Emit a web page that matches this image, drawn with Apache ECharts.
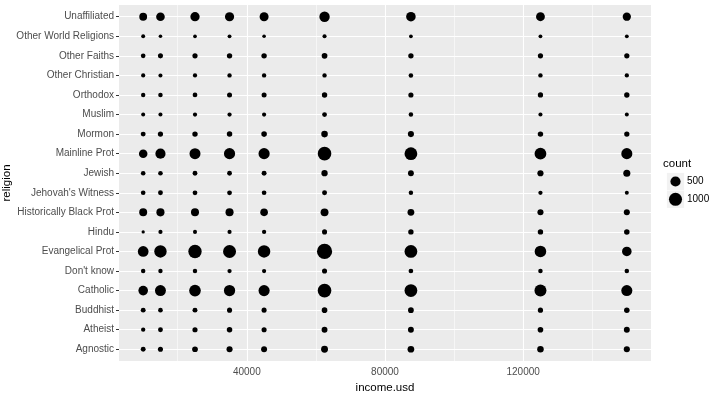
<!DOCTYPE html>
<html><head><meta charset="utf-8">
<script src="https://cdn.jsdelivr.net/npm/echarts@6/dist/echarts.min.js"></script>
<style>html,body{margin:0;padding:0;background:#fff}#c{width:720px;height:394px}</style>
</head><body><div id="c"></div>
<script>
// income.usd positions (x) for each income bracket
const incomeValues = [10000, 15000, 25000, 35000, 45000, 62500, 87500, 125000, 150000];
// religions, bottom to top
const religions = ["Agnostic","Atheist","Buddhist","Catholic","Don't know","Evangelical Prot","Hindu","Historically Black Prot","Jehovah's Witness","Jewish","Mainline Prot","Mormon","Muslim","Orthodox","Other Christian","Other Faiths","Other World Religions","Unaffiliated"];
// counts per religion across incomeValues
const agnostic      = [27, 34, 60, 81, 76, 137, 122, 109, 84];
const atheist       = [12, 27, 37, 52, 35, 70, 73, 59, 74];
const buddhist      = [27, 21, 30, 34, 33, 58, 62, 39, 53];
const catholic      = [418, 617, 732, 670, 638, 1116, 949, 792, 633];
const dontKnow      = [15, 14, 15, 11, 10, 35, 21, 17, 18];
const evangelical   = [575, 869, 1064, 982, 881, 1486, 949, 723, 414];
const hindu         = [1, 9, 7, 9, 11, 34, 47, 48, 54];
const histBlack     = [228, 244, 236, 238, 197, 223, 131, 81, 78];
const jehovah       = [20, 27, 24, 24, 21, 30, 15, 11, 6];
const jewish        = [19, 19, 25, 25, 30, 95, 69, 87, 151];
const mainline      = [289, 495, 619, 655, 651, 1107, 939, 753, 634];
const mormon        = [29, 40, 48, 51, 56, 112, 85, 49, 42];
const muslim        = [6, 7, 9, 10, 9, 23, 16, 8, 6];
const orthodox      = [13, 17, 23, 32, 32, 47, 38, 42, 46];
const otherChristian= [9, 7, 11, 13, 13, 14, 18, 14, 12];
const otherFaiths   = [20, 33, 40, 46, 49, 63, 46, 40, 41];
const otherWorld    = [5, 2, 3, 4, 2, 7, 3, 4, 4];
const unaffiliated  = [217, 299, 374, 365, 341, 528, 407, 321, 258];
const countRows = [agnostic, atheist, buddhist, catholic, dontKnow, evangelical, hindu, histBlack, jehovah, jewish, mainline, mormon, muslim, orthodox, otherChristian, otherFaiths, otherWorld, unaffiliated];
// axis ticks
const xTicks = [40000, 80000, 120000];
const xMinor = [20000, 60000, 100000, 140000];
const legendValues = [500, 1000];

const FONT = '"Liberation Sans", Arial, sans-serif';
const allCounts = countRows.flat();
const cMin = Math.min(...allCounts), cMax = Math.max(...allCounts);
const dMin = 3.3, dMax = 15.2;
function dia(c){ return dMin + (dMax - dMin) * Math.sqrt((c - cMin) / (cMax - cMin)); }

const data = [];
countRows.forEach((row, ri) => row.forEach((c, ci) => data.push([incomeValues[ci], ri, c])));

const chart = echarts.init(document.getElementById('c'), null, {renderer:'canvas'});
const gLeft = 119, gTop = 5, gW = 532, gH = 356;

const gridLines = religions.map((_, i) => ({yAxis: i, lineStyle:{color:'#fff', width:1.1, type:'solid'}}))
  .concat(xTicks.map(v => ({xAxis: v, lineStyle:{color:'#fff', width:1.1, type:'solid'}})))
  .concat(xMinor.map(v => ({xAxis: v, lineStyle:{color:'#fff', width:0.55, type:'solid'}})));

// legend + y title graphics
const lgX = 675.5, lgY0 = 181.5, lgStep = 17.8;
const graphics = [
  {type:'text', left: 663, top: 158, style:{text:'count', font:'11.5px ' + FONT, fill:'#000'}},
  {type:'text', x: 7, y: gTop + gH / 2, rotation: Math.PI / 2, style:{text:'religion', font:'11.5px ' + FONT, fill:'#000', align:'center', verticalAlign:'middle'}}
];
legendValues.forEach((v, i) => {
  const cy = lgY0 + i * lgStep;
  graphics.push({type:'rect', shape:{x: lgX - 8.6, y: cy - 8.6, width: 17.2, height: 17.2}, style:{fill:'#F2F2F2'}, z: 1});
  graphics.push({type:'circle', shape:{cx: lgX, cy: cy, r: dia(v) / 2}, style:{fill:'#000'}, z: 2});
  graphics.push({type:'text', x: 687, y: cy, style:{text: String(v), font:'10px ' + FONT, fill:'#000', verticalAlign:'middle', align:'left'}, z: 2});
});

chart.setOption({
  animation: false,
  grid: {left: gLeft, top: gTop, width: gW, height: gH, show: true, backgroundColor:'#EBEBEB', borderWidth: 0, containLabel: false, outerBoundsMode: 'none'},
  xAxis: {
    type:'value', min: 3000, max: 157000,
    name:'income.usd', nameLocation:'middle', nameGap: 18,
    nameTextStyle:{fontFamily: FONT, fontSize: 11.5, color:'#000'},
    axisLine:{show:false},
    axisTick:{show:true, customValues: xTicks, length: 3, lineStyle:{color:'#333', width: 1}},
    axisLabel:{customValues: xTicks, margin: 6, fontFamily: FONT, fontSize: 10, color:'#4D4D4D', formatter: v => String(v)},
    splitLine:{show:false}
  },
  yAxis: {
    type:'value', min: -0.6, max: 17.6,
    axisLine:{show:false},
    axisTick:{show:true, customValues: religions.map((_, i) => i), length: 3, lineStyle:{color:'#333', width: 1}},
    axisLabel:{customValues: religions.map((_, i) => i), margin: 5, fontFamily: FONT, fontSize: 10, color:'#4D4D4D', formatter: v => religions[Math.round(v)]},
    splitLine:{show:false}
  },
  series: [
    {type:'line', data: [], silent: true, markLine:{silent: true, symbol:'none', z: 1, animation: false, label:{show:false}, data: gridLines}},
    {type:'scatter', z: 3, data: data, symbol:'circle', symbolSize: v => dia(v[2]), itemStyle:{color:'#000', opacity: 1}}
  ],
  graphic: graphics
});
</script></body></html>
